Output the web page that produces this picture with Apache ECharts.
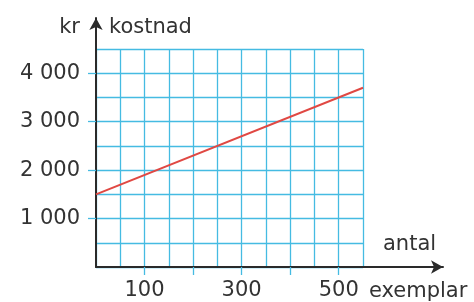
<!DOCTYPE html>
<html>
<head>
<meta charset="utf-8">
<script src="https://cdn.jsdelivr.net/npm/echarts@6/dist/echarts.min.js"></script>
<style>
  html, body { margin: 0; padding: 0; background: #fff; }
  #chart { width: 474px; height: 302px; }
</style>
</head>
<body>
<div id="chart"></div>
<script>
// antal exemplar -> kostnad (kr)
var antal = [0, 550];
var kostnad = [1500, 3700];
var xTickValues = [100, 200, 300, 400, 500];
var xLabelValues = [100, 300, 500];
var yLabelValues = [1000, 2000, 3000, 4000];

var gridColor = '#45bbe2';
var textColor = '#333';
var font = 'DejaVu Sans';

var chart = echarts.init(document.getElementById('chart'));

function thousands(v) {
    return String(v).replace(/\B(?=(\d{3})+$)/g, ' ');
}

var option = {
    animation: false,
    grid: [
        // data grid with the squares
        {left: 96, right: 111, top: 49, bottom: 35},
        // only the arrow axes, longer than the squares
        {left: 96, right: 31, top: 18, bottom: 35}
    ],
    xAxis: [
        // squares every 50
        {
            type: 'value', gridIndex: 0, min: 0, max: 550, interval: 50,
            axisLine: {show: false}, axisTick: {show: false}, axisLabel: {show: false},
            splitLine: {show: true, lineStyle: {color: gridColor, width: 1.3}}
        },
        // arrow
        {
            type: 'value', gridIndex: 1, min: 0, max: 1,
            axisLine: {show: true, symbol: ['none', 'arrow'], symbolSize: [10, 12], lineStyle: {color: '#2a2a2a', width: 2}},
            axisTick: {show: false}, axisLabel: {show: false}, splitLine: {show: false}
        },
        // ticks + labels
        {
            type: 'value', gridIndex: 0, position: 'bottom', min: 0, max: 550,
            axisLine: {show: false},
            axisTick: {show: true, customValues: xTickValues, length: 8, lineStyle: {color: gridColor, width: 1.3}},
            axisLabel: {customValues: xLabelValues, margin: 13, color: textColor, fontSize: 21, fontFamily: font},
            splitLine: {show: false}
        }
    ],
    yAxis: [
        {
            type: 'value', gridIndex: 0, min: 0, max: 4500, interval: 500,
            axisLine: {show: false}, axisTick: {show: false}, axisLabel: {show: false},
            splitLine: {show: true, lineStyle: {color: gridColor, width: 1.3}}
        },
        {
            type: 'value', gridIndex: 1, min: 0, max: 1,
            axisLine: {show: true, symbol: ['none', 'arrow'], symbolSize: [10, 12], lineStyle: {color: '#2a2a2a', width: 2}},
            axisTick: {show: false}, axisLabel: {show: false}, splitLine: {show: false}
        },
        {
            type: 'value', gridIndex: 0, position: 'left', min: 0, max: 4500,
            axisLine: {show: false},
            axisTick: {show: true, customValues: yLabelValues, length: 8, lineStyle: {color: gridColor, width: 1.3}},
            axisLabel: {
                customValues: yLabelValues, margin: 16, color: textColor, fontSize: 21, fontFamily: font,
                formatter: thousands
            },
            splitLine: {show: false}
        }
    ],
    series: [
        {
            type: 'line', xAxisIndex: 0, yAxisIndex: 0,
            data: antal.map(function (x, i) { return [x, kostnad[i]]; }),
            showSymbol: false,
            lineStyle: {color: '#e04843', width: 2},
            z: 5
        }
    ],
    graphic: [
        {type: 'text', right: 394, top: 17, style: {text: 'kr', fill: textColor, font: '21px "DejaVu Sans"'}},
        {type: 'text', left: 109, top: 17, style: {text: 'kostnad', fill: textColor, font: '21px "DejaVu Sans"'}},
        {type: 'text', left: 383, top: 234, style: {text: 'antal', fill: textColor, font: '21px "DejaVu Sans"'}},
        {type: 'text', left: 369, top: 281, style: {text: 'exemplar', fill: textColor, font: '21px "DejaVu Sans"'}}
    ]
};

chart.setOption(option);
</script>
</body>
</html>
